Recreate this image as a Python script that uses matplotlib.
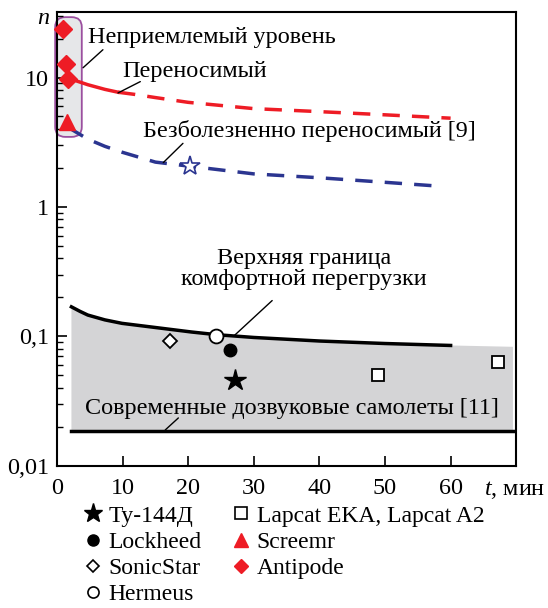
import numpy as np
import matplotlib.pyplot as plt
from matplotlib.patches import FancyBboxPatch
from matplotlib.lines import Line2D

plt.rcParams['font.family'] = ['Liberation Serif', 'DejaVu Serif']
plt.rcParams['mathtext.fontset'] = 'custom'
plt.rcParams['mathtext.it'] = 'Liberation Serif:italic'
plt.rcParams['mathtext.rm'] = 'Liberation Serif'

# tolerable overload (red): solid part then dashed part
red_t = [1.7, 3, 4.7, 7.3, 9.3, 11.9, 15, 20, 30, 40, 50, 60]
red_n = [10.2, 9.4, 8.8, 8.1, 7.7, 7.4, 7.0, 6.43, 5.75, 5.45, 5.15, 4.85]
red_solid_end = 5  # points drawn solid, the rest dashed

# painlessly tolerable (blue dashed)
blue_t = [1.7, 4.7, 7.3, 9.9, 15, 20, 30, 40, 50, 58]
blue_n = [4.12, 3.34, 2.94, 2.65, 2.22, 2.07, 1.8, 1.68, 1.55, 1.45]

# upper comfort boundary (black)
comf_t = [2.2, 3.5, 4.7, 7.3, 9.9, 15, 20.5, 24.3, 30, 40, 50, 60]
comf_n = [0.169, 0.156, 0.146, 0.134, 0.126, 0.117, 0.108, 0.103, 0.098, 0.092, 0.088, 0.085]
shade_end_t = 69.5
shade_end_n = 0.083
subsonic_n = 0.0185

# aircraft
tu144_t, tu144_n = [27.2], [0.046]
lockheed_t, lockheed_n = [26.4], [0.079]
sonic_t, sonic_n = [17.3], [0.092]
hermeus_t, hermeus_n = [24.3], [0.10]
lapcat_t, lapcat_n = [49, 67.2], [0.05, 0.063]
screemr_t, screemr_n = [1.5], [4.5]
antipode_t, antipode_n = [0.9, 1.4, 1.7], [23.8, 12.8, 9.8]
star_t, star_n = [20.3], [2.07]

RED = '#ee1c25'
BLUE = '#2b3590'
GRAY = '#d4d4d6'
FS = 17.4

fig = plt.figure(figsize=(5.48, 6.08), dpi=100)
ax = fig.add_axes([0.104, 0.234, 0.838, 0.746])
ax.set_yscale('log')
ax.set_xlim(0, 70)
ax.set_ylim(0.01, 32)

# unacceptable zone box
box = FancyBboxPatch((-0.004 + 0.022, 0.725 + 0.022), 0.058 - 0.044, 0.264 - 0.044,
                     boxstyle='round,pad=0.022', transform=ax.transAxes,
                     facecolor='#e6e7e9', edgecolor='#9b4f9f', lw=1.3,
                     clip_on=False, zorder=1)
ax.add_patch(box)

# comfort shading
shade_t = comf_t + [shade_end_t, shade_end_t, comf_t[0]]
shade_n = comf_n + [shade_end_n, subsonic_n, subsonic_n]
ax.fill(shade_t, shade_n, color=GRAY, lw=0, zorder=1)
ax.plot(comf_t, comf_n, color='black', lw=2.5, zorder=2)
ax.plot([comf_t[0], shade_end_t], [subsonic_n, subsonic_n], color='black', lw=2.5, zorder=2)

ax.plot(red_t[:red_solid_end], red_n[:red_solid_end], color=RED, lw=2.5, zorder=2)
ax.plot(red_t[red_solid_end - 1:], red_n[red_solid_end - 1:], color=RED, lw=2.5,
        dashes=(5, 3.5), zorder=2)
ax.plot(blue_t, blue_n, color=BLUE, lw=2.5, dashes=(5, 3.5), zorder=2)

ax.plot(star_t, star_n, marker='*', ms=15, mfc='white', mec=BLUE, mew=1.2, ls='none', zorder=4)
ax.plot(tu144_t, tu144_n, marker='*', ms=16, color='black', ls='none', zorder=4)
ax.plot(lockheed_t, lockheed_n, marker='o', ms=9, color='black', ls='none', zorder=4)
ax.plot(sonic_t, sonic_n, marker='D', ms=7, mfc='white', mec='black', mew=1.3, ls='none', zorder=4)
ax.plot(hermeus_t, hermeus_n, marker='o', ms=10, mfc='white', mec='black', mew=1.3, ls='none', zorder=4)
ax.plot(lapcat_t, lapcat_n, marker='s', ms=9, mfc='white', mec='black', mew=1.3, ls='none', zorder=4)
ax.plot(screemr_t, screemr_n, marker='^', ms=11, color=RED, ls='none', zorder=4, clip_on=False)
ax.plot(antipode_t, antipode_n, marker='D', ms=9, color=RED, ls='none', zorder=4, clip_on=False)

# labels with leader lines
lead = dict(arrowprops=dict(arrowstyle='-', color='black', lw=1, shrinkA=0, shrinkB=0))
ax.annotate('', xy=(3.97, 11.9), xytext=(7.0, 16.4), **lead)
ax.text(4.7, 20.3, 'Неприемлемый уровень', fontsize=FS, va='center')
ax.annotate('', xy=(9.3, 7.6), xytext=(12.7, 9.3), **lead)
ax.text(9.9, 11.1, 'Переносимый', fontsize=FS, va='center')
ax.annotate('', xy=(16.2, 2.2), xytext=(19.2, 3.1), **lead)
ax.text(13.1, 3.85, 'Безболезненно переносимый [9]', fontsize=FS, va='center')
ax.annotate('', xy=(26.9, 0.1), xytext=(32.8, 0.189), **lead)
ax.text(37.6, 0.33, 'Верхняя граница\nкомфортной перегрузки', fontsize=FS,
        ha='center', va='center', linespacing=1.0)
ax.annotate('', xy=(16.5, 0.0189), xytext=(18.5, 0.0234), **lead)
ax.text(4.3, 0.0279, 'Современные дозвуковые самолеты [11]', fontsize=FS, va='center')

ax.set_xticks(np.arange(0, 70, 10))
ax.set_yticks([0.01, 0.1, 1, 10])
ax.set_yticklabels(['0,01', '0,1', '1', '10'])
ax.tick_params(direction='in', labelsize=FS, length=7, width=1.2, pad=6)
ax.tick_params(axis='x', pad=9)
ax.tick_params(which='minor', direction='in', length=4, width=1)
for s in ax.spines.values():
    s.set_linewidth(1.5)
    s.set_zorder(3)

fig.text(43 / 548, 1 - 18 / 608, 'n', fontsize=FS, style='italic', ha='center', va='center')
fig.text(545 / 548, 1 - 490 / 608, '$t$, мин', fontsize=FS, ha='right', va='center')

handles = [
    Line2D([], [], marker='*', ms=14, color='black', ls='none'),
    Line2D([], [], marker='o', ms=8, color='black', ls='none'),
    Line2D([], [], marker='D', ms=6, mfc='white', mec='black', mew=1.2, ls='none'),
    Line2D([], [], marker='o', ms=8, mfc='white', mec='black', mew=1.2, ls='none'),
    Line2D([], [], marker='s', ms=8, mfc='white', mec='black', mew=1.2, ls='none'),
    Line2D([], [], marker='^', ms=10, color=RED, ls='none'),
    Line2D([], [], marker='D', ms=7, color=RED, ls='none'),
]
labels = ['Ту-144Д', 'Lockheed', 'SonicStar', 'Hermeus',
          'Lapcat EKA, Lapcat A2', 'Screemr', 'Antipode']
fig.legend(handles, labels, ncol=2, loc='upper left', bbox_to_anchor=(81 / 548, 1 - 505 / 608),
           frameon=False, fontsize=17, handlelength=1, handletextpad=0.15,
           labelspacing=0.2, columnspacing=1.2, borderaxespad=0, borderpad=0)

fig.savefig('out.png', dpi=100)
